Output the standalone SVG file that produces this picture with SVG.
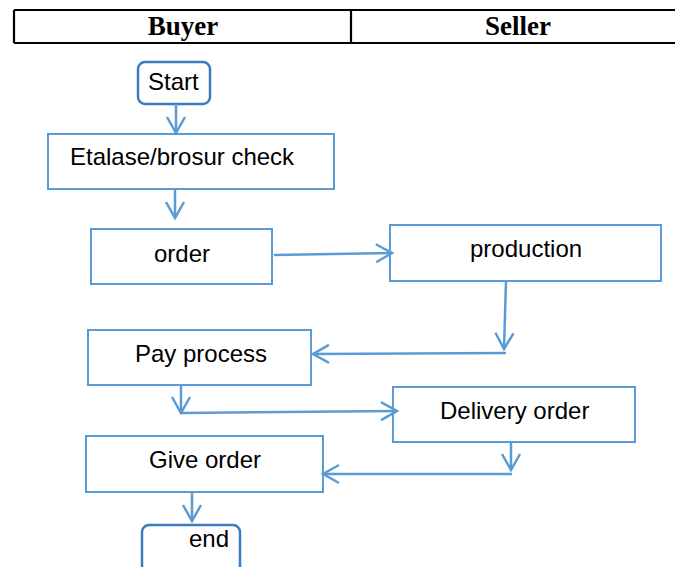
<svg xmlns="http://www.w3.org/2000/svg" width="675" height="567" viewBox="0 0 675 567">
  <style>
    .hdr { fill: none; stroke: #000; stroke-width: 2.2; }
    .hdr-text { font-family: "Liberation Serif", "Times New Roman", serif; font-weight: bold; font-size: 27px; fill: #000; text-anchor: middle; }
    .box { fill: #fff; stroke: #5B9BD5; stroke-width: 2; }
    .term { fill: #fff; stroke: #3A7CC0; stroke-width: 2.5; }
    .label { font-family: "Liberation Sans", Arial, sans-serif; font-size: 24px; fill: #000; }
    .conn { fill: none; stroke: #5B9BD5; stroke-width: 2.5; }
  </style>
  <defs>
    <marker id="open-arrow" markerUnits="userSpaceOnUse" markerWidth="24" markerHeight="24" viewBox="-20 -12 24 24" refX="0" refY="0" orient="auto">
      <path d="M-16,-9 L0,0 L-16,9" fill="none" stroke="#5B9BD5" stroke-width="2.5"/>
    </marker>
  </defs>

  <rect width="675" height="567" fill="#fff"/>

  <!-- swimlane header -->
  <g id="header">
    <path class="hdr" d="M14,10 H677 M14,43 H677 M14,10 V43 M351,10 V43"/>
    <text class="hdr-text" x="183" y="35">Buyer</text>
    <text class="hdr-text" x="518" y="35">Seller</text>
  </g>

  <g id="start">
    <rect class="term" x="138" y="62" width="72" height="42" rx="7"/>
    <text class="label" x="148" y="90">Start</text>
  </g>

  <g id="etalase">
    <rect class="box" x="48" y="134" width="286" height="55"/>
    <text class="label" x="70" y="165">Etalase/brosur check</text>
  </g>

  <g id="order">
    <rect class="box" x="91" y="229" width="181" height="55"/>
    <text class="label" x="154" y="262">order</text>
  </g>

  <g id="production">
    <rect class="box" x="390" y="225" width="271" height="56"/>
    <text class="label" x="470" y="257">production</text>
  </g>

  <g id="pay">
    <rect class="box" x="88" y="330" width="223" height="55"/>
    <text class="label" x="135" y="362">Pay process</text>
  </g>

  <g id="delivery">
    <rect class="box" x="393" y="387" width="242" height="55"/>
    <text class="label" x="440" y="419">Delivery order</text>
  </g>

  <g id="give">
    <rect class="box" x="86" y="436" width="237" height="56"/>
    <text class="label" x="149" y="468">Give order</text>
  </g>

  <g id="end">
    <rect class="term" x="142" y="525" width="98" height="60" rx="7"/>
    <text class="label" x="189" y="547">end</text>
  </g>

  <!-- connectors -->
  <g id="connectors">
    <path class="conn" d="M176,104 V133" marker-end="url(#open-arrow)"/>
    <path class="conn" d="M175,189 V218" marker-end="url(#open-arrow)"/>
    <path class="conn" d="M274,255 L392,253" marker-end="url(#open-arrow)"/>
    <path class="conn" d="M506,281 L504,349" marker-end="url(#open-arrow)"/>
    <path class="conn" d="M506,353 L313,354" marker-end="url(#open-arrow)"/>
    <path class="conn" d="M181,385 V413" marker-end="url(#open-arrow)"/>
    <path class="conn" d="M181,413 L397,411" marker-end="url(#open-arrow)"/>
    <path class="conn" d="M511,442 V470" marker-end="url(#open-arrow)"/>
    <path class="conn" d="M512,474 H323" marker-end="url(#open-arrow)"/>
    <path class="conn" d="M192,492 V521" marker-end="url(#open-arrow)"/>
  </g>
</svg>
